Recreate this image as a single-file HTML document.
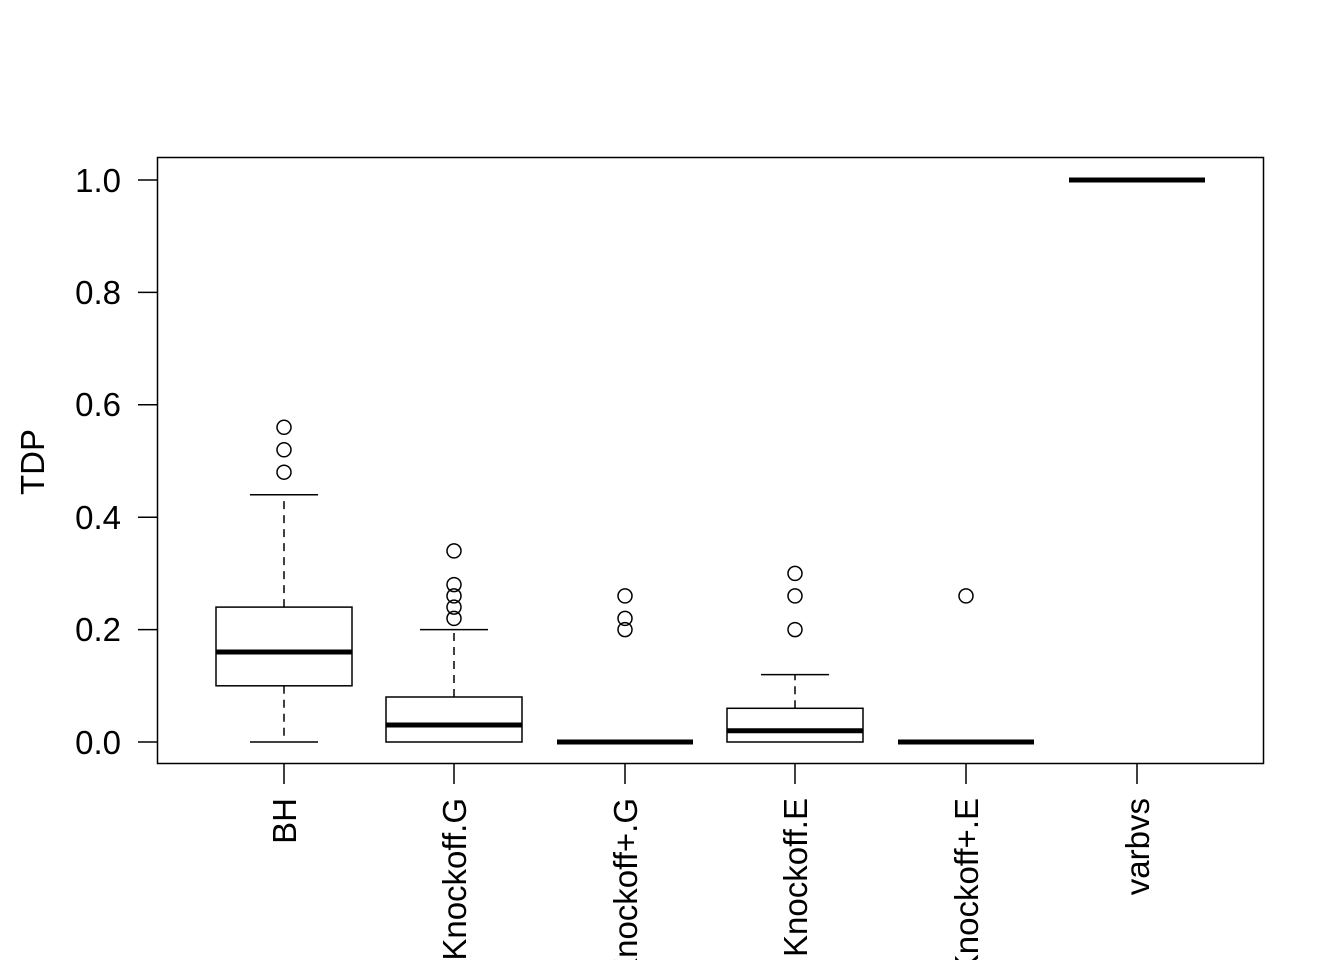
<!DOCTYPE html>
<html><head><meta charset="utf-8"><style>
html,body{margin:0;padding:0;background:#fff;overflow:hidden;}
svg text{font-family:"Liberation Sans",Arial,sans-serif;font-size:33px;fill:#000;}
</style></head><body>
<svg width="1344" height="960" viewBox="0 0 1344 960" xmlns="http://www.w3.org/2000/svg">
<rect x="0" y="0" width="1344" height="960" fill="#fff"/>
<rect x="157.5" y="157.5" width="1106" height="606" fill="none" stroke="#000" stroke-width="1.5"/>
<g stroke="#000" stroke-width="1.5">
<line x1="138" y1="180" x2="157" y2="180"/>
<line x1="138" y1="292.4" x2="157" y2="292.4"/>
<line x1="138" y1="404.8" x2="157" y2="404.8"/>
<line x1="138" y1="517.2" x2="157" y2="517.2"/>
<line x1="138" y1="629.6" x2="157" y2="629.6"/>
<line x1="138" y1="742" x2="157" y2="742"/>
</g>
<g text-anchor="end">
<text x="121" y="192">1.0</text>
<text x="121" y="304">0.8</text>
<text x="121" y="416">0.6</text>
<text x="121" y="529">0.4</text>
<text x="121" y="641">0.2</text>
<text x="121" y="754">0.0</text>
</g>
<text transform="translate(44,462) rotate(-90)" text-anchor="middle">TDP</text>
<g stroke="#000" stroke-width="1.5">
<line x1="284" y1="764" x2="284" y2="784"/>
<line x1="454" y1="764" x2="454" y2="784"/>
<line x1="625" y1="764" x2="625" y2="784"/>
<line x1="795" y1="764" x2="795" y2="784"/>
<line x1="966" y1="764" x2="966" y2="784"/>
<line x1="1137" y1="764" x2="1137" y2="784"/>
</g>
<g text-anchor="end">
<text transform="translate(296,798) rotate(-90)">BH</text>
<text transform="translate(466,798) rotate(-90)">Knockoff.G</text>
<text transform="translate(637,798) rotate(-90)">Knockoff+.G</text>
<text transform="translate(807,798) rotate(-90)">Knockoff.E</text>
<text transform="translate(978,798) rotate(-90)">Knockoff+.E</text>
<text transform="translate(1149,798) rotate(-90)">varbvs</text>
</g>
<g stroke="#000" stroke-width="1.5" fill="none">
<line x1="284" y1="685.8" x2="284" y2="742" stroke-dasharray="8,6"/>
<line x1="284" y1="607.1" x2="284" y2="494.7" stroke-dasharray="8,6"/>
<line x1="250" y1="742" x2="318" y2="742"/>
<line x1="250" y1="494.7" x2="318" y2="494.7"/>
<rect x="216" y="607.1" width="136" height="78.7" fill="#fff"/>
<line x1="216" y1="652" x2="352" y2="652" stroke-width="5"/>
<circle cx="284" cy="472.2" r="7"/><circle cx="284" cy="449.8" r="7"/><circle cx="284" cy="427.3" r="7"/>
<line x1="454" y1="697" x2="454" y2="629.6" stroke-dasharray="8,6"/>
<line x1="420" y1="629.6" x2="488" y2="629.6"/>
<rect x="386" y="697" width="136" height="45" fill="#fff"/>
<line x1="386" y1="725" x2="522" y2="725" stroke-width="5"/>
<circle cx="454" cy="618.4" r="7"/><circle cx="454" cy="607.1" r="7"/><circle cx="454" cy="595.9" r="7"/><circle cx="454" cy="584.6" r="7"/><circle cx="454" cy="550.9" r="7"/>
<line x1="557" y1="742" x2="693" y2="742" stroke-width="5"/>
<circle cx="625" cy="629.6" r="7"/><circle cx="625" cy="618.4" r="7"/><circle cx="625" cy="595.9" r="7"/>
<line x1="795" y1="708.3" x2="795" y2="674.6" stroke-dasharray="8,6"/>
<line x1="761" y1="674.6" x2="829" y2="674.6"/>
<rect x="727" y="708.3" width="136" height="33.7" fill="#fff"/>
<line x1="727" y1="730.8" x2="863" y2="730.8" stroke-width="5"/>
<circle cx="795" cy="629.6" r="7"/><circle cx="795" cy="595.9" r="7"/><circle cx="795" cy="573.4" r="7"/>
<line x1="898" y1="742" x2="1034" y2="742" stroke-width="5"/>
<circle cx="966" cy="595.9" r="7"/>
<line x1="1069" y1="180" x2="1205" y2="180" stroke-width="5"/>
</g>
</svg>
</body></html>
